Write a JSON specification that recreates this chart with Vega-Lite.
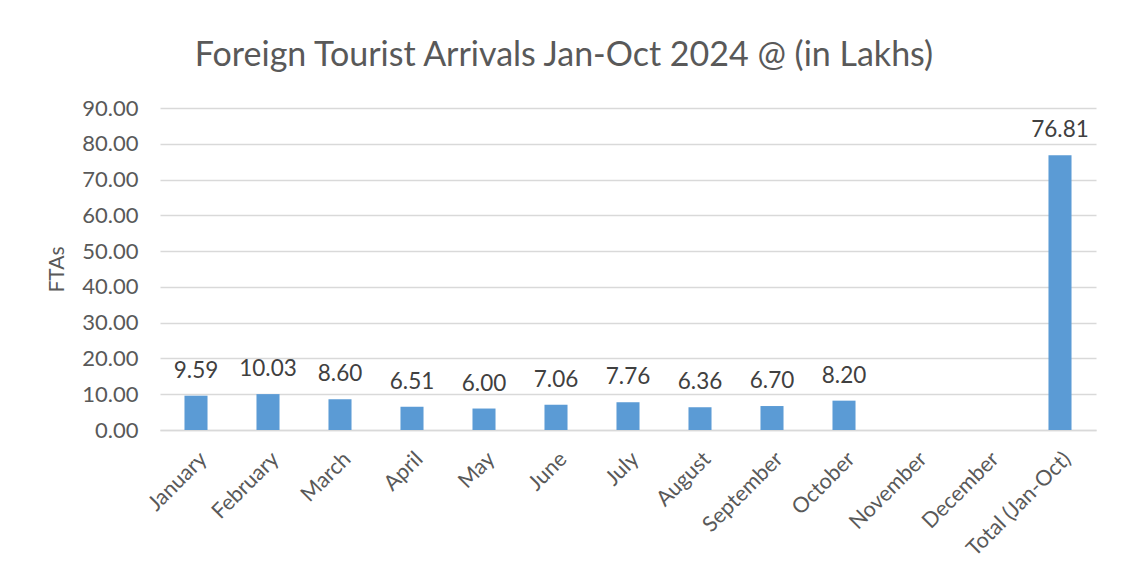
{
  "$schema": "https://vega.github.io/schema/vega-lite/v6.json",
  "autosize": {"type": "none"},
  "width": 936,
  "height": 322,
  "padding": {"left": 160, "top": 108, "right": 29, "bottom": 152},
  "background": "white",
  "config": {
    "font": "Lato",
    "view": {"stroke": null}
  },
  "title": {
    "text": "Foreign Tourist Arrivals Jan-Oct 2024 @ (in Lakhs)",
    "fontSize": 34,
    "font": "Lato",
    "fontWeight": "normal",
    "color": "#595959",
    "anchor": "middle",
    "frame": "group",
    "dx": -64,
    "dy": 35,
    "baseline": "alphabetic",
    "offset": 32
  },
  "data": {
    "values": [
      {"month": "January", "value": 9.59},
      {"month": "February", "value": 10.03},
      {"month": "March", "value": 8.60},
      {"month": "April", "value": 6.51},
      {"month": "May", "value": 6.00},
      {"month": "June", "value": 7.06},
      {"month": "July", "value": 7.76},
      {"month": "August", "value": 6.36},
      {"month": "September", "value": 6.70},
      {"month": "October", "value": 8.20},
      {"month": "Total (Jan-Oct)", "value": 76.81}
    ]
  },
  "encoding": {
    "x": {
      "field": "month",
      "type": "nominal",
      "sort": null,
      "scale": {
        "domain": ["January", "February", "March", "April", "May", "June", "July", "August", "September", "October", "November", "December", "Total (Jan-Oct)"],
        "paddingInner": 0.68,
        "paddingOuter": 0.34
      },
      "axis": {
        "title": null,
        "labelAngle": -45,
        "labelFontSize": 21.5,
        "labelColor": "#595959",
        "labelPadding": 18,
        "ticks": false,
        "domainColor": "#d9d9d9",
        "domainWidth": 1.5,
        "labelFont": "Lato"
      }
    },
    "y": {
      "field": "value",
      "type": "quantitative",
      "scale": {"domain": [0, 90], "nice": false},
      "axis": {
        "title": "FTAs",
        "titleFontSize": 21,
        "titleFontWeight": "normal",
        "titleColor": "#595959",
        "titlePadding": 14,
        "values": [0, 10, 20, 30, 40, 50, 60, 70, 80, 90],
        "format": ".2f",
        "labelFontSize": 22,
        "labelColor": "#595959",
        "labelPadding": 22,
        "ticks": false,
        "domain": false,
        "gridColor": "#d9d9d9",
        "gridWidth": 1.5
      }
    }
  },
  "layer": [
    {"mark": {"type": "bar", "color": "#5B9BD5"}},
    {
      "mark": {"type": "text", "baseline": "bottom", "dy": -13, "fontSize": 22.5, "color": "#404040"},
      "encoding": {"text": {"field": "value", "type": "quantitative", "format": ".2f"}}
    }
  ]
}
